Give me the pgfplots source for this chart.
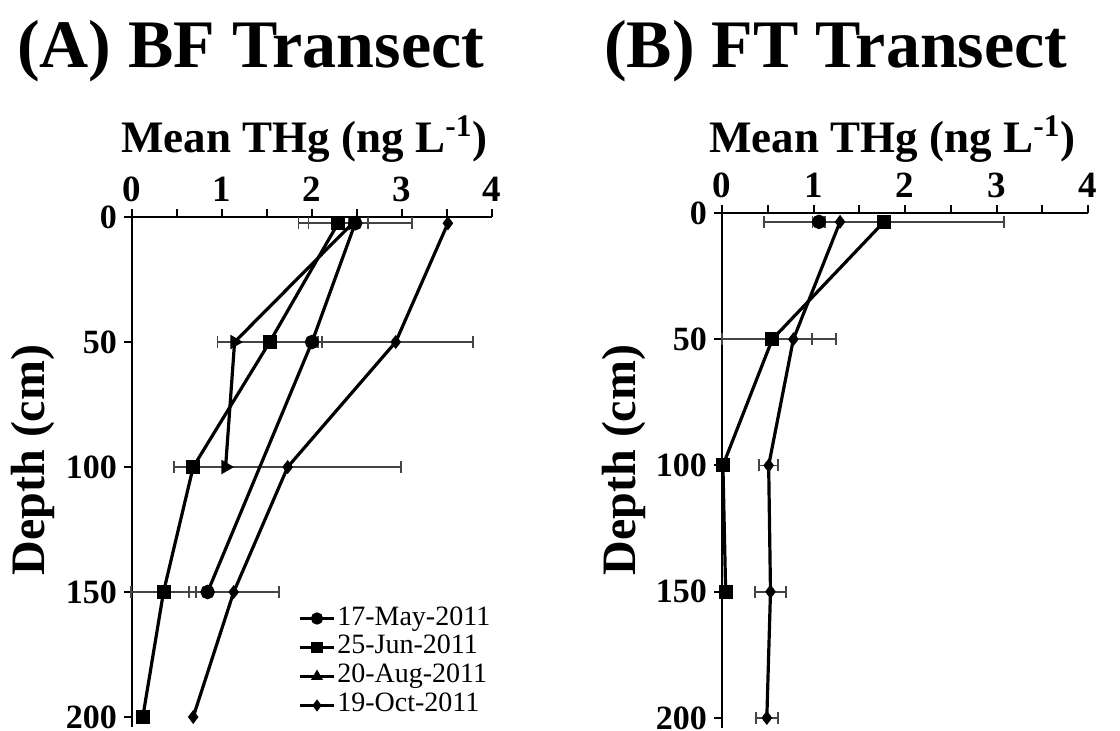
\documentclass[border=0pt]{standalone}
\usepackage{pgfplots}
\pgfplotsset{compat=1.18}
\usepackage{pgfplotstable}
\usepackage{fontspec}
\setmainfont{Liberation Serif}

\definecolor{errgray}{HTML}{444444}

% ---------- Panel A data ----------
\pgfplotstableread{
x y
2.48 2.5
2.00 50
0.84 150
}\AMay
\pgfplotstableread{
x y
2.29 2.5
1.53 50
0.68 100
0.35 150
0.12 200
}\AJun
\pgfplotstableread{
x y
2.45 2.5
1.14 50
1.04 100
}\AAug
\pgfplotstableread{
x y
3.51 2.5
2.93 50
1.73 100
1.13 150
0.68 200
}\AOct
\pgfplotstableread{
x y em ep
2.48 2.5 0.63 0.63
2.29 2.5 0.33 0.33
1.53 50 0.58 0.58
2.93 50 0.86 0.86
1.73 100 1.26 1.26
0.35 150 0.36 0.36
1.13 150 0.50 0.50
}\AErr

% ---------- Panel B data ----------
\pgfplotstableread{
x y
1.06 3.5
}\BMay
\pgfplotstableread{
x y
1.77 3.5
0.55 50
0.01 100
0.04 150
}\BJun
\pgfplotstableread{
x y
1.29 3.5
0.78 50
0.51 100
0.53 150
0.49 200
}\BOct
\pgfplotstableread{
x y em ep
1.06 3.5 0.07 0.07
1.77 3.5 1.31 1.31
0.55 50 0.55 0.43
0.78 50 0.78 0.47
0.51 100 0.105 0.105
0.53 150 0.17 0.17
0.49 200 0.12 0.12
}\BErr

\pgfplotsset{
  myax/.style={
    scale only axis,
    y dir=reverse,
    xmin=0, xmax=4, ymin=0, ymax=204,
    axis x line*=top,
    axis y line*=left,
    axis line style={-, line width=1pt},
    xtick={0,1,2,3,4},
    minor xtick={0.5,1.5,2.5,3.5},
    ytick={0,50,100,150,200},
    tick align=outside,
    major tick length=4pt,
    minor tick length=4pt,
    every tick/.style={black, line width=1pt},
    xticklabel style={font=\fontsize{18.5}{18.5}\selectfont\bfseries},
    yticklabel style={font=\fontsize{17}{17}\selectfont\bfseries},
    /pgf/number format/assume math mode=true,
    clip=false,
  },
  errplot/.style={
    errgray, only marks, mark=none, forget plot,
    error bars/.cd, x dir=both, x explicit,
    error mark=|,
    error bar style={errgray, line width=0.9pt},
    error mark options={errgray, line width=0.9pt, mark size=3pt},
  },
  ser/.style={black, line width=1.6pt, forget plot},
  leg/.style={black, line width=1.3pt,
    legend image code/.code={%
      \draw[mark repeat=2, mark phase=2] plot coordinates {(0pt,0pt) (8.5pt,0pt) (17pt,0pt)};}},
}

\begin{document}
\begin{tikzpicture}
\useasboundingbox (0,0) rectangle (560pt,-365pt);

\node[anchor=base west, font=\fontsize{34}{34}\selectfont\bfseries] at (5pt,-33.5pt) {(A) BF Transect};
\node[anchor=base west, font=\fontsize{34}{34}\selectfont\bfseries] at (298.5pt,-33.5pt) {(B) FT Transect};
\node[anchor=base, font=\fontsize{22.5}{22.5}\selectfont\bfseries] at (152.25pt,-76pt) {Mean THg (ng L\textsuperscript{-1})};
\node[anchor=base, font=\fontsize{22.5}{22.5}\selectfont\bfseries] at (446.25pt,-76pt) {Mean THg (ng L\textsuperscript{-1})};
\node[anchor=base, rotate=90, font=\fontsize{24}{24}\selectfont\bfseries] at (22.5pt,-230pt) {Depth (cm)};
\node[anchor=base, rotate=90, font=\fontsize{24}{24}\selectfont\bfseries] at (317.5pt,-230pt) {Depth (cm)};

\begin{axis}[myax, width=180pt, height=255pt, at={(66pt,-108.5pt)}, anchor=north west,
  legend style={draw=none, fill=none, font=\fontsize{14}{14}\selectfont,
    at={(0.462,0.242)}, anchor=north west, inner sep=0pt, row sep=0pt,
    nodes={inner sep=1pt, text height=9.5pt, text depth=3pt}},
  legend cell align=left]
\addplot[errplot] table[x=x, y=y, x error minus=em, x error plus=ep] {\AErr};
\addplot[ser, mark=*, mark size=2.8pt] table {\AMay};
\addplot[ser, mark=square*, mark size=2.7pt] table {\AJun};
\addplot[ser, mark=triangle*, mark size=2.6pt, mark options={rotate=-90}] table {\AAug};
\addplot[ser, mark=diamond*, mark size=2.2pt] table {\AOct};
\addlegendimage{leg, mark=*, mark size=2.4pt}
\addlegendentry{17-May-2011}
\addlegendimage{leg, mark=square*, mark size=2.2pt}
\addlegendentry{25-Jun-2011}
\addlegendimage{leg, mark=triangle*, mark size=2.2pt}
\addlegendentry{20-Aug-2011}
\addlegendimage{leg, mark=diamond*, mark size=2pt}
\addlegendentry{19-Oct-2011}
\end{axis}

\begin{axis}[myax, width=183pt, height=257.5pt, at={(361pt,-106.5pt)}, anchor=north west]
\addplot[errplot] table[x=x, y=y, x error minus=em, x error plus=ep] {\BErr};
\addplot[ser, mark=*, mark size=2.8pt] table {\BMay};
\addplot[ser, mark=square*, mark size=2.7pt] table {\BJun};
\addplot[ser, mark=diamond*, mark size=2.2pt] table {\BOct};
\end{axis}
\end{tikzpicture}
\end{document}
